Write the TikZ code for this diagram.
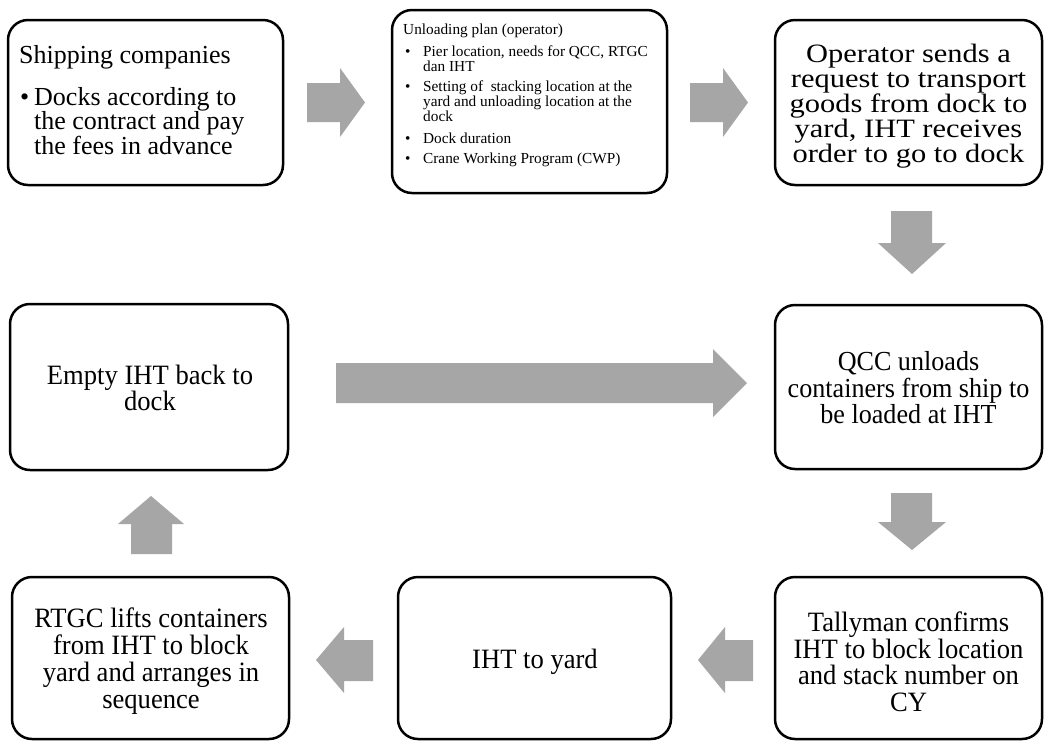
\documentclass[tikz,border=0pt]{standalone}
\usepackage{fontspec}
\setmainfont{Liberation Serif}
\newfontfamily\fN{Liberation Serif}
\newfontfamily\fW[FakeStretch=1.15]{Liberation Serif}
\newfontfamily\fC[FakeStretch=0.95]{Liberation Serif}
\definecolor{arrowgray}{RGB}{166,166,166}
\tikzset{
  stepbox/.style={draw=black, line width=2.5pt, rounded corners=20pt, inner sep=0pt},
  blockarrow/.style={fill=arrowgray, draw=none},
  txt/.style={inner sep=0pt, align=center},
  ltxt/.style={inner sep=0pt, align=left},
}
\begin{document}
\begin{tikzpicture}[x=1pt,y=-1pt]
\useasboundingbox (0,0) rectangle (1044,740);
\fill[white] (0,0) rectangle (1044,740);

% boxes
\node[stepbox, minimum width=275pt, minimum height=165pt] (b1) at (145.5,102.5) {};
\node[stepbox, minimum width=275pt, minimum height=183pt] (b2) at (529.5,101.5) {};
\node[stepbox, minimum width=267pt, minimum height=165pt] (b3) at (908.5,102.5) {};
\node[stepbox, minimum width=267pt, minimum height=164pt] (b4) at (908.5,387) {};
\node[stepbox, minimum width=278pt, minimum height=166pt] (b5) at (149,387) {};
\node[stepbox, minimum width=277pt, minimum height=162pt] (b6) at (150.5,658) {};
\node[stepbox, minimum width=273pt, minimum height=162pt] (b7) at (534.5,658) {};
\node[stepbox, minimum width=267pt, minimum height=162pt] (b8) at (908.5,658) {};

% texts
\node[ltxt, anchor=west, font={\fN\fontsize{26}{22}\selectfont}] (t1a) at (19,57) {Shipping companies};
\node[ltxt, anchor=west, font={\fN\fontsize{26}{21.7}\selectfont}] (t1b) at (20,121)
  {\makebox[14pt][l]{\textbullet}Docks according to\\\hspace*{14pt}the contract and pay\\\hspace*{14pt}the fees in advance};

\node[ltxt, anchor=north west, font={\fN\fontsize{15.3}{15}\selectfont}] (t2) at (403,24) {%
\begin{tabular}{@{}l@{}l@{}}
\multicolumn{2}{@{}l@{}}{Unloading plan (operator)}\\[6pt]
\makebox[20pt][l]{\hspace{2pt}\textbullet} & Pier location, needs for QCC, RTGC\\
 & dan IHT\\[5pt]
\makebox[20pt][l]{\hspace{2pt}\textbullet} & Setting of \ stacking location at the\\
 & yard and unloading location at the\\
 & dock\\[7pt]
\makebox[20pt][l]{\hspace{2pt}\textbullet} & Dock duration\\[5pt]
\makebox[20pt][l]{\hspace{2pt}\textbullet} & Crane Working Program (CWP)
\end{tabular}};

\node[txt, font={\fW\fontsize{26.5}{25}\selectfont}] (t3) at (908.5,106)
  {Operator sends a\\request to transport\\goods from dock to\\yard, IHT receives\\order to go to dock};
\node[txt, font={\fC\fontsize{27.5}{26.5}\selectfont}] (t4) at (908.5,388)
  {QCC unloads\\containers from ship to\\be loaded at IHT};
\node[txt, font={\fC\fontsize{28}{26.7}\selectfont}] (t5) at (150,388)
  {Empty IHT back to\\dock};
\node[txt, font={\fC\fontsize{28}{27}\selectfont}] (t6) at (151,661)
  {RTGC lifts containers\\from IHT to block\\yard and arranges in\\sequence};
\node[txt, font={\fC\fontsize{28}{26}\selectfont}] (t7) at (535,662) {IHT to yard};
\node[txt, font={\fC\fontsize{28}{26.5}\selectfont}] (t8) at (908.5,662)
  {Tallyman confirms\\IHT to block location\\and stack number on\\CY};

% block arrows
\fill[blockarrow] (307,83) -- (340,83) -- (340,68) -- (365,102.5) -- (340,137) -- (340,122) -- (307,122) -- cycle;
\fill[blockarrow] (690,83) -- (723,83) -- (723,68) -- (748,102.5) -- (723,137) -- (723,122) -- (690,122) -- cycle;
\fill[blockarrow] (891,211) -- (932,211) -- (932,243) -- (946,243) -- (912,274) -- (878,243) -- (891,243) -- cycle;
\fill[blockarrow] (891,493) -- (932,493) -- (932,522) -- (946,522) -- (912,550) -- (878,522) -- (891,522) -- cycle;
\fill[blockarrow] (336,363) -- (713,363) -- (713,349) -- (747,383) -- (713,417) -- (713,403) -- (336,403) -- cycle;
\fill[blockarrow] (131,554) -- (131,524) -- (118,524) -- (151,496) -- (184,524) -- (172,524) -- (172,554) -- cycle;
\fill[blockarrow] (373,640) -- (344,640) -- (344,627) -- (316,660) -- (344,693) -- (344,681) -- (373,681) -- cycle;
\fill[blockarrow] (753,640) -- (725,640) -- (725,627) -- (698,660) -- (725,693) -- (725,681) -- (753,681) -- cycle;
\end{tikzpicture}
\end{document}
